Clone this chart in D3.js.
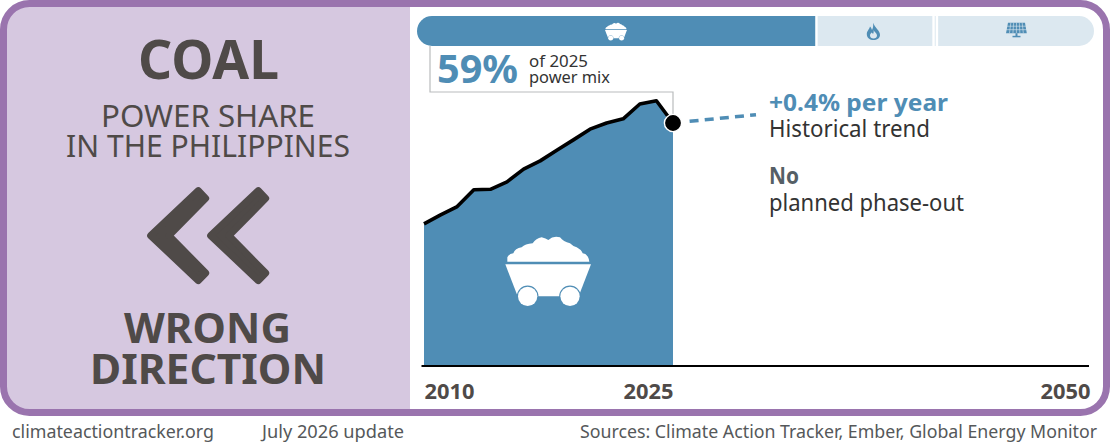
<!DOCTYPE html>
<html>
<head>
<meta charset="utf-8">
<script src="https://cdn.jsdelivr.net/npm/d3@7"></script>
<style>
html,body{margin:0;padding:0;background:#fff;overflow:hidden}
svg{display:block}
text{font-family:"Noto Sans","Open Sans",sans-serif}
</style>
</head>
<body>
<svg id="c" width="1110" height="444"></svg>
<script>
const years = [2010,2011,2012,2013,2014,2015,2016,2017,2018,2019,2020,2021,2022,2023,2024,2025];
const coalShare = [34.5,36.7,38.7,42.8,42.9,44.7,47.8,49.8,52.4,54.9,57.5,59.0,60.0,63.6,64.4,59.0];
const trendYears = [2026,2030];
const trendValues = [59.4,61.0];
const tickYears = [2010,2025,2050];
const mixNames = ["coal","gas","other","renewables"];
const mixShares = [59.0,17.3,0.5,23.2];

const BLUE="#4f8db5", LIGHT="#dce8f0", PURPLE="#9a74ae", LILAC="#d6c8e0", DARK="#4f4a48", INK="#333333";
const svg=d3.select("#c");
const x=d3.scaleLinear().domain([2010,2050]).range([424,1088]);
const y=d3.scaleLinear().domain([0,100]).range([366,-45.9]);
const shareX=d3.scaleLinear().domain([0,100]).range([417,1094]);

function label(t,px,py,size,weight,fill,width){
  const el=svg.append("text").attr("x",px).attr("y",py).attr("font-size",size)
    .attr("font-weight",weight).attr("fill",fill).text(t);
  if(width) el.attr("textLength",width).attr("lengthAdjust","spacingAndGlyphs");
  return el;
}

// frame and left panel
const defs=svg.append("defs");
defs.append("clipPath").attr("id","frameClip").append("rect")
  .attr("x",3.5).attr("y",3.5).attr("width",1103).attr("height",409).attr("rx",26);
defs.append("clipPath").attr("id","barClip").append("rect")
  .attr("x",417).attr("y",16).attr("width",677).attr("height",30).attr("rx",15);
svg.append("rect").attr("x",3.5).attr("y",3.5).attr("width",406.5).attr("height",409)
  .attr("fill",LILAC).attr("clip-path","url(#frameClip)");
svg.append("rect").attr("x",3.5).attr("y",3.5).attr("width",1103).attr("height",409).attr("rx",26)
  .attr("fill","none").attr("stroke",PURPLE).attr("stroke-width",7);

// left panel text
label("COAL",138,79,53,700,DARK,141);
label("POWER SHARE",101,127,31,400,DARK,214);
label("IN THE PHILIPPINES",66,157,31,400,DARK,284);
label("WRONG",124,343,42,700,DARK,167);
label("DIRECTION",90,384,42,700,DARK,236);

// double chevron
[0,60].forEach(dx=>{
  svg.append("polygon")
    .attr("points",[[452,197],[595,62],[617,85],[507,197],[617,309],[595,332]]
      .map(p=>[p[0]/3+dx,p[1]/3+170].join(",")).join(" "))
    .attr("fill",DARK).attr("stroke",DARK).attr("stroke-width",7).attr("stroke-linejoin","round");
});

// footer
label("climateactiontracker.org",12,437.5,18.2,400,"#55585a",202);
label("July 2026 update",262,437.5,18.2,400,"#55585a",142);
label("Sources: Climate Action Tracker, Ember, Global Energy Monitor",580,437.5,18.2,400,"#55585a",517);

// power mix bar
let cum=0;
const mix=mixShares.map((v,i)=>{const d={name:mixNames[i],start:cum,end:cum+v};cum+=v;return d;});
svg.append("g").attr("clip-path","url(#barClip)").selectAll("rect").data(mix).join("rect")
  .attr("x",d=>shareX(d.start)+(d.start>0?1.2:0))
  .attr("y",16).attr("height",30)
  .attr("width",d=>shareX(d.end)-shareX(d.start)-(d.start>0?1.2:0)-(d.end<100?1.2:0))
  .attr("fill",d=>d.name==="coal"?BLUE:LIGHT);

// area, axis, line
svg.append("path").datum(years.map((yr,i)=>({yr,v:coalShare[i]})))
  .attr("d",d3.area().x(d=>x(d.yr)).y0(y(0)).y1(d=>y(d.v))).attr("fill",BLUE);

// call-out
svg.append("path").attr("d",`M430 46V92H${x(2025)}V${y(59)}`)
  .attr("fill","none").attr("stroke","#b9bcbd").attr("stroke-width",1.2);

const axis=svg.append("g").attr("transform",`translate(0,${y(0)})`)
  .call(d3.axisBottom(x).tickValues(tickYears).tickSize(0).tickPadding(14).tickFormat(d3.format("d")));
axis.select(".domain").remove();
svg.append("line").attr("x1",421.5).attr("x2",1089).attr("y1",y(0)).attr("y2",y(0))
  .attr("stroke","#000").attr("stroke-width",2);
axis.selectAll("text").attr("font-size",21).attr("font-weight",700).attr("fill",DARK)
  .attr("font-family",'"Noto Sans",sans-serif')
  .attr("dy",0).attr("y",33)
  .attr("text-anchor",d=>d===2010?"start":"end")
  .attr("x",d=>d===2050?2:0)
  .attr("textLength",50).attr("lengthAdjust","spacingAndGlyphs");

svg.append("path").datum(years.map((yr,i)=>({yr,v:coalShare[i]})))
  .attr("d",d3.line().x(d=>x(d.yr)).y(d=>y(d.v)))
  .attr("fill","none").attr("stroke","#000").attr("stroke-width",3.6).attr("stroke-linejoin","round");

svg.append("path").datum(trendYears.map((yr,i)=>({yr,v:trendValues[i]})))
  .attr("d",d3.line().x(d=>x(d.yr)).y(d=>y(d.v)))
  .attr("fill","none").attr("stroke",BLUE).attr("stroke-width",3.6).attr("stroke-dasharray","9 6.2");

svg.append("circle").attr("cx",x(2025)).attr("cy",y(59)).attr("r",8.6)
  .attr("fill","#000").attr("stroke","#fff").attr("stroke-width",1.4);

// annotation text
label("59%",437,83,39,700,BLUE,81);
label("of 2025",529,66.5,17,400,INK,59);
label("power mix",529,83,17,400,INK,81);
label("+0.4% per year",769,110.5,23.5,700,BLUE,179);
label("Historical trend",769,137,23,400,INK,161);
label("No",769,184,23.5,700,"#555f66",30);
label("planned phase-out",769,211,23,400,INK,195);

// coal cart icon
function cart(tx,ty,s){
  const g=svg.append("g").attr("transform",`translate(${tx},${ty}) scale(${s})`);
  g.append("path").attr("fill","#fff")
   .attr("d","M82 125L82 112Q88 100 100 100Q105 85 125 82Q135 72 158 70Q168 55 185 52Q198 56 205 60Q220 46 240 52Q250 65 270 70Q280 80 290 82Q305 90 308 100Q325 102 328 125Z");
  g.append("path").attr("fill","#fff").attr("d","M76 133H333L296 229H113Z");
  [143,270].forEach(cx=>g.append("circle").attr("cx",cx).attr("cy",229).attr("r",29)
    .attr("fill","#fff").attr("stroke",BLUE).attr("stroke-width",7).attr("paint-order","stroke"));
}
cart(480,220,1/3);
cart(605-76*0.0855,23-52*0.0855,0.0855);

// gas icon
svg.append("path").attr("fill",BLUE)
  .attr("d","M873 22.7C875 28 880 30.5 880 35C880 38 877 40 873.5 40C870 40 866.8 38 866.8 34C866.8 31 869 30 870 26.5C871 27.5 871.5 28.5 872 30C873 28 873.5 26 873 22.7Z");
svg.append("path").attr("fill",LIGHT)
  .attr("d","M873.5 30C874.5 32 877 33.5 877 35.5C877 37.5 875.5 38.5 873.5 38.5C871.5 38.5 870 37.5 870 35.5C870 34 871 33.5 871.5 32.5C872.3 33 872.8 33.5 873 34C873.5 33 874 31.5 873.5 30Z");

// solar icon
svg.append("path").attr("fill",BLUE).attr("d","M1008 22.7H1025L1026.8 33.2H1006Z");
d3.range(1,6).forEach(i=>{
  const t=i/6;
  svg.append("line").attr("x1",1008+17*t).attr("y1",22.7).attr("x2",1006+20.8*t).attr("y2",33.2)
    .attr("stroke",LIGHT).attr("stroke-width",0.6);
});
[26.2,29.7].forEach(py=>svg.append("line").attr("x1",1006).attr("x2",1027).attr("y1",py).attr("y2",py)
  .attr("stroke",LIGHT).attr("stroke-width",0.6));
svg.append("rect").attr("x",1015.5).attr("y",33.2).attr("width",2).attr("height",3).attr("fill",BLUE);
svg.append("rect").attr("x",1012.5).attr("y",35.8).attr("width",8).attr("height",1.5).attr("fill",BLUE);
</script>
</body>
</html>
